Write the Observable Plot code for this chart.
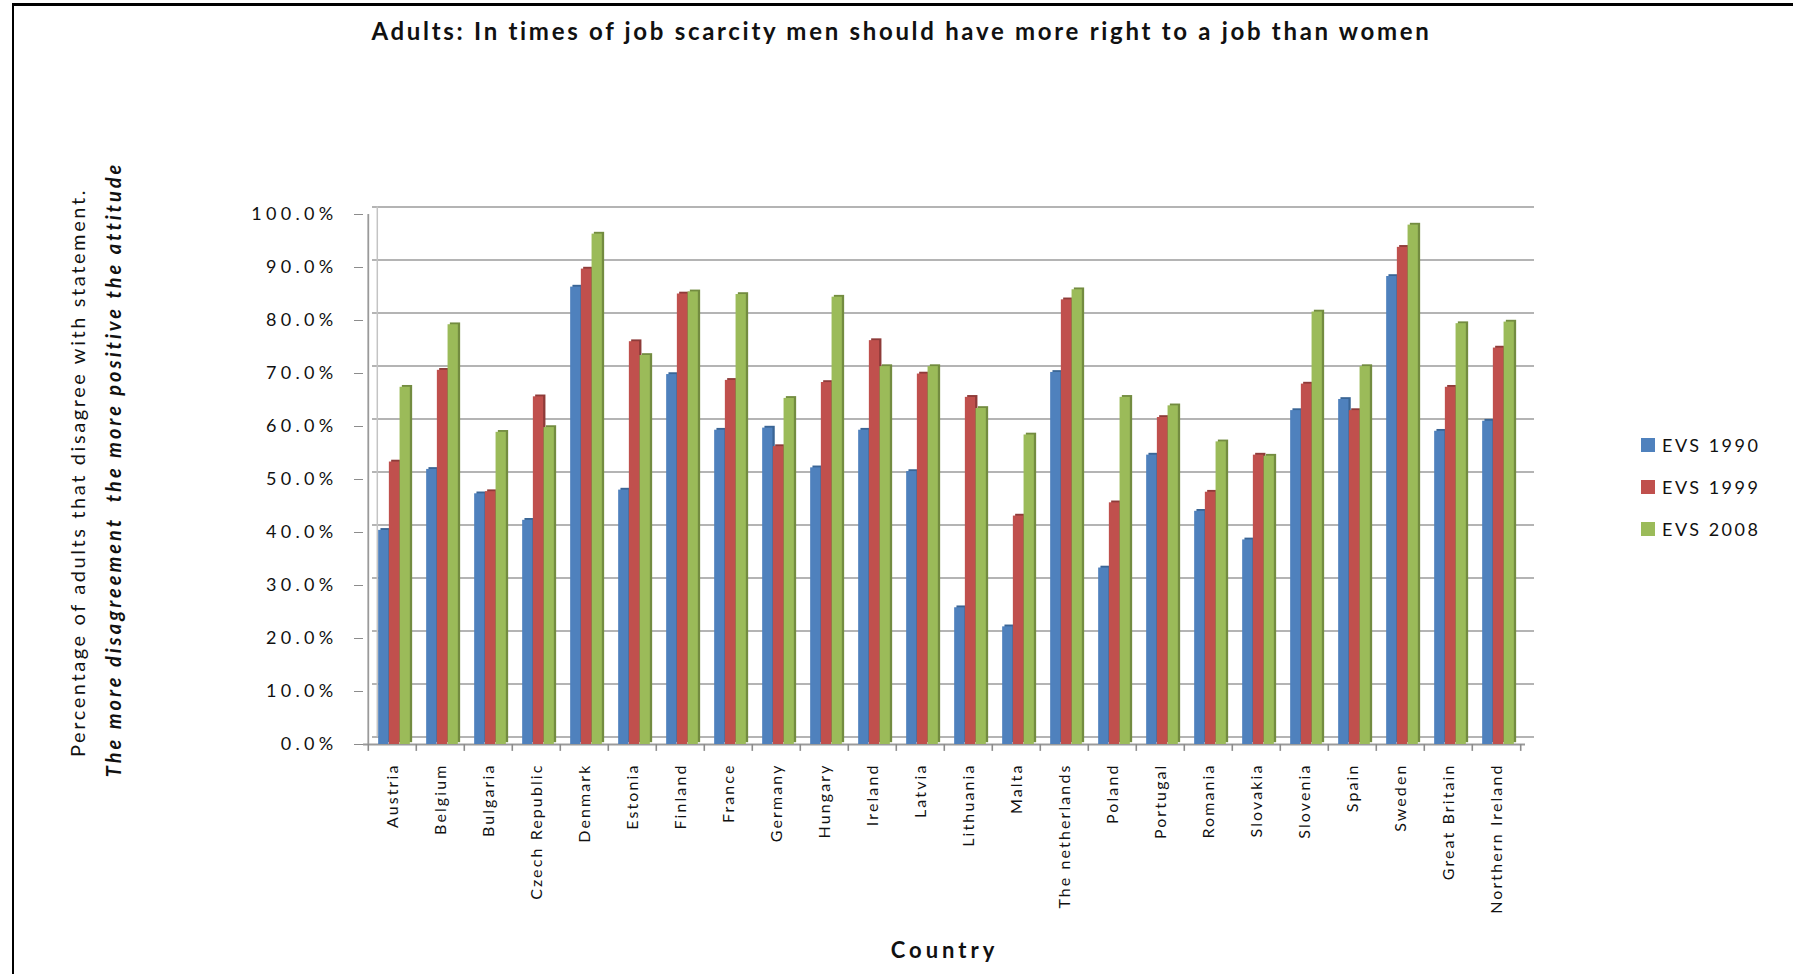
<!DOCTYPE html>
<html><head><meta charset="utf-8">
<script src="https://cdn.jsdelivr.net/npm/d3@7/dist/d3.min.js"></script>
<script src="https://cdn.jsdelivr.net/npm/@observablehq/plot@0.6/dist/plot.umd.min.js"></script>
<style>
html,body{margin:0;padding:0;background:#fff;width:1793px;height:974px;overflow:hidden;font-family:Lato,"DejaVu Sans",sans-serif;}
#frame{position:absolute;left:12px;top:3px;width:1781px;height:971px;border-left:2px solid #000;border-top:3px solid #000;box-sizing:border-box;}
#chart{position:absolute;left:0;top:0;}
#title{position:absolute;left:0;top:16px;width:1803px;text-align:center;font-weight:bold;font-size:24px;letter-spacing:2.7px;color:#111;}
#legend{position:absolute;left:1641px;top:424px;}
.li{display:flex;align-items:center;height:42px;font-size:18px;letter-spacing:2.5px;color:#111;}
.sw{width:14px;height:14px;margin-right:7px;}
g[aria-label="x-axis tick label"] text{letter-spacing:2.1px}
g[aria-label="y-axis tick label"] text{letter-spacing:4.3px}
</style></head><body>
<div id="frame"></div>
<div id="chart"></div>
<div id="title"></div>
<div id="legend"></div>
<script>
const titleText = "Adults: In times of job scarcity men should have more right to a job than women";
const yLabel1 = "Percentage of adults that disagree with statement.";
const yLabel2 = "The more disagreement  the more positive the attitude";
const xLabel = "Country";
const countries = ["Austria","Belgium","Bulgaria","Czech Republic","Denmark","Estonia","Finland","France","Germany","Hungary","Ireland","Latvia","Lithuania","Malta","The netherlands","Poland","Portugal","Romania","Slovakia","Slovenia","Spain","Sweden","Great Britain","Northern Ireland"];
const seriesNames = ["EVS 1990","EVS 1999","EVS 2008"];
const evs1990 = [40.4,51.9,47.3,42.3,86.3,48.0,69.8,59.3,59.7,52.2,59.3,51.5,25.8,22.2,70.2,33.3,54.6,44.0,38.6,63.0,65.1,88.3,59.1,61.0];
const evs1999 = [53.3,70.6,47.7,65.6,89.7,76.0,85.0,68.7,56.2,68.3,76.2,69.9,65.5,43.1,83.9,45.6,61.7,47.6,54.6,68.0,63.0,93.8,67.4,74.8];
const evs2008 = [67.4,79.2,58.9,59.8,96.3,73.4,85.4,84.9,65.3,84.4,71.3,71.3,63.4,58.4,85.8,65.5,63.9,57.1,54.4,81.6,71.3,98.0,79.4,79.7];
const yTicks = [0,10,20,30,40,50,60,70,80,90,100];
const colors = ["#4F81BD","#C0504D","#9BBB59"];
const sideColors = ["#3A6595","#8E3B39","#738C40"];

document.getElementById("title").textContent = titleText;

const seriesValues = [evs1990, evs1999, evs2008];
const rows = countries.flatMap((c,i)=>seriesNames.map((s,j)=>({country:c, series:s, value:seriesValues[j][i]})));

const W=1793, H=974, ML=363, MR=W-1525, MT=214, MB=H-744;
const step=(W-ML-MR)/countries.length;
const barW=10.7;
const inset=(step-barW)/2;
const offsets=[-barW+2, 2, barW+2];

const marks=[];
marks.push(Plot.ruleY(yTicks,{y:d=>d,dx:9,dy:-7.5,stroke:"#9b9b9b",strokeWidth:1.7}));
marks.push(Plot.ruleX([countries[0]],{x:d=>d,y1:0,y2:100,dx:-step/2+9,dy:-7.5,stroke:"#c4c4c4",strokeWidth:1.5}));
marks.push(Plot.ruleX([countries[0]],{x:d=>d,y1:0,y2:100,dx:-step/2,stroke:"#9a9a9a",strokeWidth:1.8}));
marks.push(Plot.ruleY([0],{stroke:"#9a9a9a",strokeWidth:1.8}));
marks.push(Plot.ruleX(countries,{x:d=>d,y1:0,y2:-1.3,dx:-step/2,stroke:"#8c8c8c",strokeWidth:1.6}));
marks.push(Plot.ruleX([countries[countries.length-1]],{x:d=>d,y1:0,y2:-1.3,dx:step/2,stroke:"#8c8c8c",strokeWidth:1.6}));
seriesNames.forEach((s,i)=>{
  const data=rows.filter(r=>r.series===s);
  marks.push(Plot.barY(data,{x:"country",y:"value",fill:sideColors[i],insetLeft:inset,insetRight:inset,dx:offsets[i]+2.3,dy:-1.8}));
  marks.push(Plot.barY(data,{x:"country",y:"value",fill:colors[i],insetLeft:inset,insetRight:inset,dx:offsets[i]}));
});
marks.push(Plot.axisX({tickSize:0,tickRotate:-90,tickPadding:19,fontSize:16,label:null,fill:"#111"}));
marks.push(Plot.axisY({ticks:yTicks,tickFormat:d=>d.toFixed(1)+"%",tickSize:9,tickPadding:17,fontSize:18,label:null,stroke:"#8c8c8c",fill:"#111"}));
marks.push(Plot.text([yLabel1],{frameAnchor:"left",textAnchor:"middle",text:d=>d,rotate:-90,dx:-285,dy:-7,fontSize:20,fill:"#111"}));
marks.push(Plot.text([yLabel2],{frameAnchor:"left",textAnchor:"middle",text:d=>d,rotate:-90,dx:-248.5,dy:-10,fontSize:20,fontStyle:"italic",fontWeight:"bold",fill:"#111"}));
marks.push(Plot.text([xLabel],{frameAnchor:"bottom",text:d=>d,dy:213,fontSize:22,fontWeight:"bold",fill:"#111"}));

const chart = Plot.plot({
  width:W, height:H, marginLeft:ML, marginRight:MR, marginTop:MT, marginBottom:MB,
  style:{fontFamily:"Lato, 'DejaVu Sans', sans-serif", background:"transparent"},
  x:{domain:countries, padding:0, axis:null},
  y:{domain:[0,100], axis:null},
  marks
});
document.getElementById("chart").appendChild(chart);
const spacing = {[yLabel1]:"2.6px",[yLabel2]:"3px",[xLabel]:"4px"};
chart.querySelectorAll("text").forEach(t=>{ if(spacing[t.textContent]) t.style.letterSpacing=spacing[t.textContent]; });

const legend=document.getElementById("legend");
seriesNames.forEach((s,i)=>{
  const li=document.createElement("div"); li.className="li";
  const sw=document.createElement("div"); sw.className="sw"; sw.style.background=colors[i];
  const t=document.createElement("span"); t.textContent=s;
  li.appendChild(sw); li.appendChild(t); legend.appendChild(li);
});
</script>
</body></html>
